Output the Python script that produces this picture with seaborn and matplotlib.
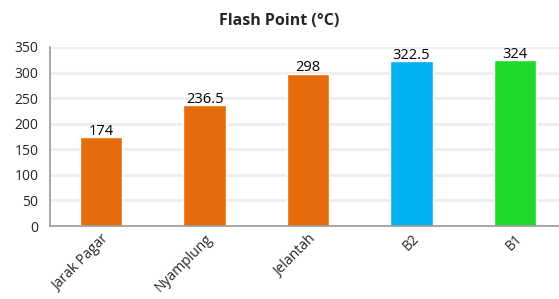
import pandas as pd
import seaborn as sns
import matplotlib.pyplot as plt

categories = ['Jarak Pagar', 'Nyamplung', 'Jelantah', 'B2', 'B1']
flash_points = [174, 236.5, 298, 322.5, 324]
value_labels = ['174', '236.5', '298', '322.5', '324']
bar_colors = ['#E46C0A', '#E46C0A', '#E46C0A', '#00B0F0', '#21D929']

df = pd.DataFrame({'sample': categories, 'flash_point': flash_points})

sns.set_style('white')
plt.rcParams['font.family'] = ['Open Sans', 'DejaVu Sans']

fig = plt.figure(figsize=(5.59, 2.99), dpi=100)
ax = fig.add_axes([0.0886, 0.244, 0.925, 0.599])

sns.barplot(data=df, x='sample', y='flash_point', hue='sample',
            palette=dict(zip(categories, bar_colors)), width=0.41,
            legend=False, ax=ax, saturation=1)

ax.set_ylim(0, 350)
ax.set_xlim(-0.5, 4.5)
ax.set_yticks(range(0, 351, 50))
ax.yaxis.grid(True, color='#EFEFEF', linewidth=2.2)
ax.set_axisbelow(True)
for side in ['top', 'right']:
    ax.spines[side].set_visible(False)
for side in ['left', 'bottom']:
    ax.spines[side].set_color('#9A9A9A')
    ax.spines[side].set_linewidth(1.2)

ax.set_xticks([i - 0.5 for i in range(6)], minor=True)
ax.tick_params(axis='x', which='minor', length=5, color='#9A9A9A', width=1.2)
ax.tick_params(axis='x', which='major', length=0, pad=4)
ax.tick_params(axis='y', length=5, color='#9A9A9A', width=1.2, labelsize=10, pad=3)
ax.set_xticks(range(len(categories)))
ax.set_xticklabels(categories, rotation=45, ha='right', rotation_mode='anchor', fontsize=10)

for i, v in enumerate(flash_points):
    ax.text(i, v - 3, value_labels[i], ha='center', va='bottom', fontsize=10.5, color='#000000')

ax.set_xlabel('')
ax.set_ylabel('')
fig.text(0.5, 0.93, 'Flash Point (°C)', ha='center', va='center', fontsize=11.5, fontweight='bold')

fig.savefig('out.png', dpi=100)
